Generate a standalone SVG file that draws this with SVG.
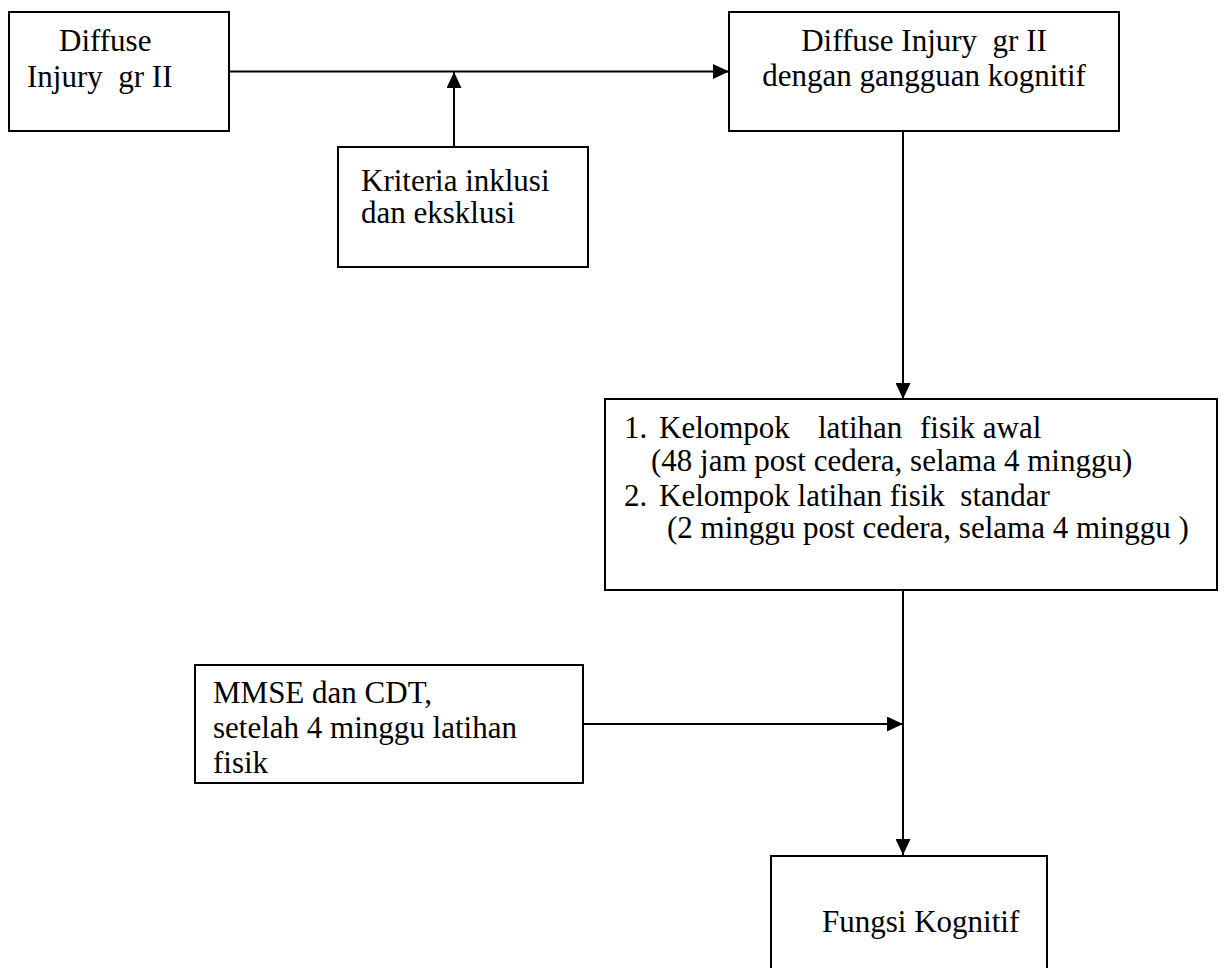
<svg xmlns="http://www.w3.org/2000/svg" width="1223" height="968" viewBox="0 0 1223 968">
<style>
.box{fill:#fff;stroke:#000;stroke-width:2}
.t{font-family:"Liberation Serif","Times New Roman",serif;font-size:31px;fill:#000}
.c{fill:none;stroke:#000;stroke-width:2}
</style>
<defs>
<marker id="ah" markerUnits="userSpaceOnUse" markerWidth="16" markerHeight="15" refX="16" refY="7.5" orient="auto">
<path d="M0,0 L16,7.5 L0,15 z" fill="#000"/>
</marker>
</defs>
<rect width="1223" height="968" fill="#fff"/>
<g id="connectors">
<line class="c" x1="229" y1="71.5" x2="729" y2="71.5" marker-end="url(#ah)"/>
<line class="c" x1="454" y1="147" x2="454" y2="72" marker-end="url(#ah)"/>
<line class="c" x1="903" y1="131" x2="903" y2="399" marker-end="url(#ah)"/>
<line class="c" x1="903" y1="590" x2="903" y2="855" marker-end="url(#ah)"/>
<line class="c" x1="583" y1="724" x2="903" y2="724" marker-end="url(#ah)"/>
</g>
<g id="n1">
<rect class="box" x="9" y="12" width="220" height="119"/>
<text class="t" x="59" y="51">Diffuse</text>
<text class="t" x="27" y="87" xml:space="preserve">Injury  gr II</text>
</g>
<g id="n2">
<rect class="box" x="729" y="12" width="390" height="119"/>
<text class="t" x="924" y="51" text-anchor="middle" xml:space="preserve">Diffuse Injury  gr II</text>
<text class="t" x="924" y="86" text-anchor="middle">dengan gangguan kognitif</text>
</g>
<g id="n3">
<rect class="box" x="338" y="147" width="250" height="120"/>
<text class="t" x="361" y="191">Kriteria inklusi</text>
<text class="t" x="361" y="223">dan eksklusi</text>
</g>
<g id="n4">
<rect class="box" x="605" y="399" width="612" height="191"/>
<text class="t" y="438"><tspan x="624">1.</tspan><tspan x="659">Kelompok</tspan><tspan x="818">latihan</tspan><tspan x="920">fisik awal</tspan></text>
<text class="t" x="651" y="471">(48 jam post cedera, selama 4 minggu)</text>
<text class="t" y="506"><tspan x="624">2.</tspan><tspan x="659" xml:space="preserve">Kelompok latihan fisik  standar</tspan></text>
<text class="t" x="667" y="538">(2 minggu post cedera, selama 4 minggu )</text>
</g>
<g id="n5">
<rect class="box" x="195" y="665" width="388" height="118"/>
<text class="t" x="213" y="703">MMSE dan CDT,</text>
<text class="t" x="213" y="738">setelah 4 minggu latihan</text>
<text class="t" x="213" y="773">fisik</text>
</g>
<g id="n6">
<rect class="box" x="771" y="856" width="276" height="130"/>
<text class="t" x="822" y="932">Fungsi Kognitif</text>
</g>
</svg>
